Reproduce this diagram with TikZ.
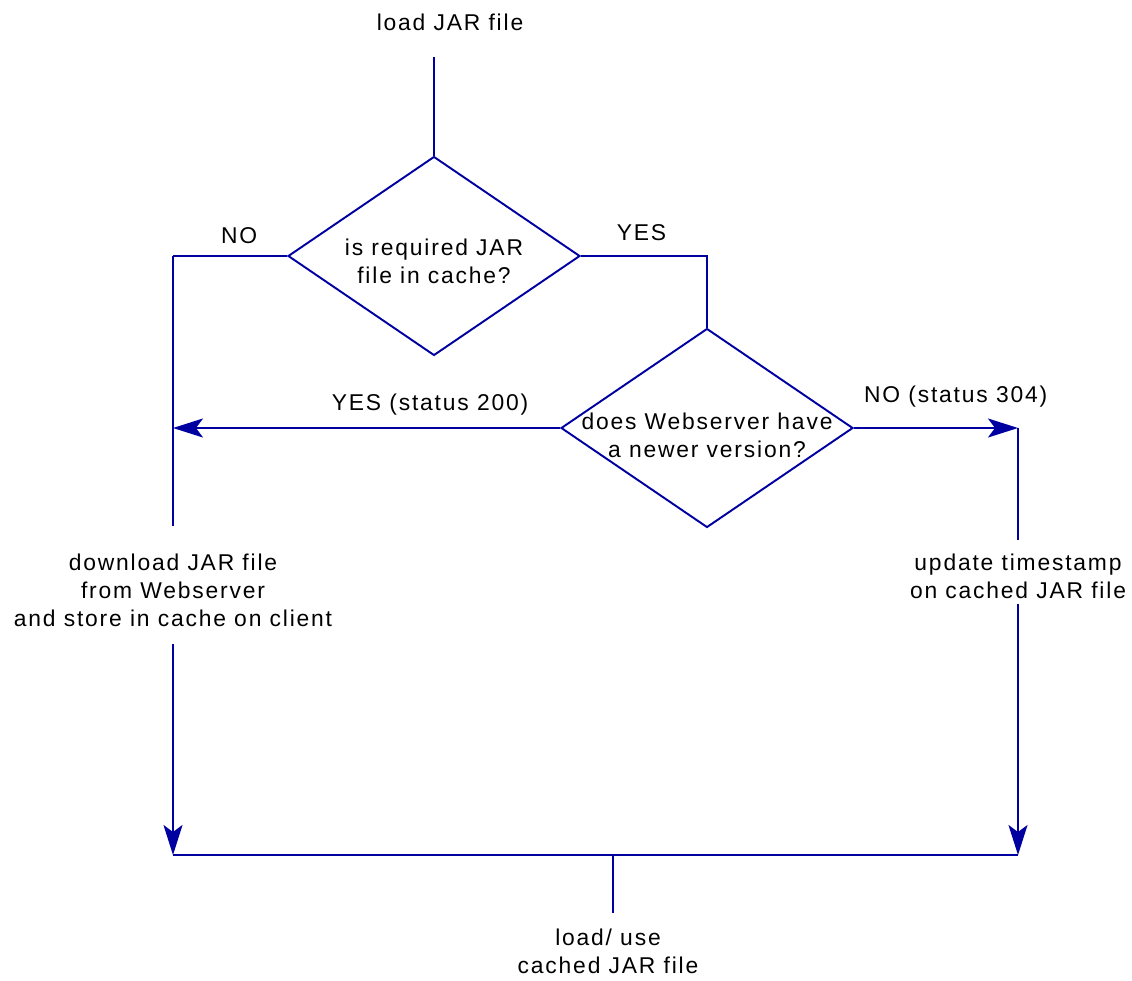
\documentclass[tikz,border=0pt]{standalone}
\usepackage{fontspec}
\setmainfont{Liberation Sans}[LetterSpace=8]
\usetikzlibrary{positioning,shapes.geometric,arrows.meta}
\definecolor{flowblue}{HTML}{0000A0}

\begin{document}
\begin{tikzpicture}[
  x=0.02cm, y=-0.02cm,
  font=\fontsize{13}{15.9}\selectfont,
  decision/.style={diamond, draw=flowblue, line width=1.1pt, minimum width=5.84cm,
      minimum height=3.98cm, inner sep=0pt},
  caption/.style={align=center, inner sep=0pt},
  wire/.style={draw=flowblue, line width=1.1pt},
  flow/.style={wire, -{Stealth[length=6mm,width=3.8mm,inset=1.4mm]}},
  tag/.style={inner sep=0pt},
]
\useasboundingbox (0,0) rectangle (1132,980);

\node[caption] (load) at (450,22) {load JAR file};
\coordinate (start) at (434,57);
\node[decision] (cached) at (434,256) {};
\node[caption] (cachedq) at (434,261) {is required JAR\\file in cache?};
\node[decision] (newer) at (707,428) {};
\node[caption] (newerq) at (707,435) {does Webserver have\\a newer version?};
\node[caption] (download) at (173,590) {download JAR file\\from Webserver\\and store in cache on client};
\node[caption] (update) at (1018,576) {update timestamp\\on cached JAR file};
\node[caption] (use) at (608,951) {load/ use\\cached JAR file};

\coordinate (nocorner) at (173,256);
\coordinate (yescorner) at (707,256);
\coordinate (leftjoin) at (173,428);
\coordinate (rightjoin) at (1018,428);
\coordinate (leftend) at (173,855);
\coordinate (rightend) at (1018,855);
\coordinate (merge) at (613,855);

\draw[wire] (start) -- (cached.north);
\draw[wire] (cached.west) -- (nocorner) node[tag,pos=0.42,above=0.22cm]{NO};
\draw[wire, shorten >=0.55cm] (nocorner) -- (download);
\draw[wire] (cached.east) -- (yescorner) node[tag,pos=0.48,above=0.28cm]{YES} -- (newer.north);
\draw[flow] (newer.west) -- (leftjoin) node[tag,pos=0.336,above=0.24cm]{YES (status 200)};
\draw[flow] (newer.east) -- (rightjoin) node[tag,pos=0.62,above=0.4cm]{NO (status 304)};
\draw[wire, shorten >=0.26cm] (rightjoin) -- (update);
\draw[flow, shorten <=0.1cm] (update) -- (rightend);
\draw[flow, shorten <=0.35cm] (download) -- (leftend);
\draw[wire] (leftend) -- (rightend);
\draw[wire, shorten >=0.3cm] (merge) -- (merge |- use.north);
\end{tikzpicture}
\end{document}
